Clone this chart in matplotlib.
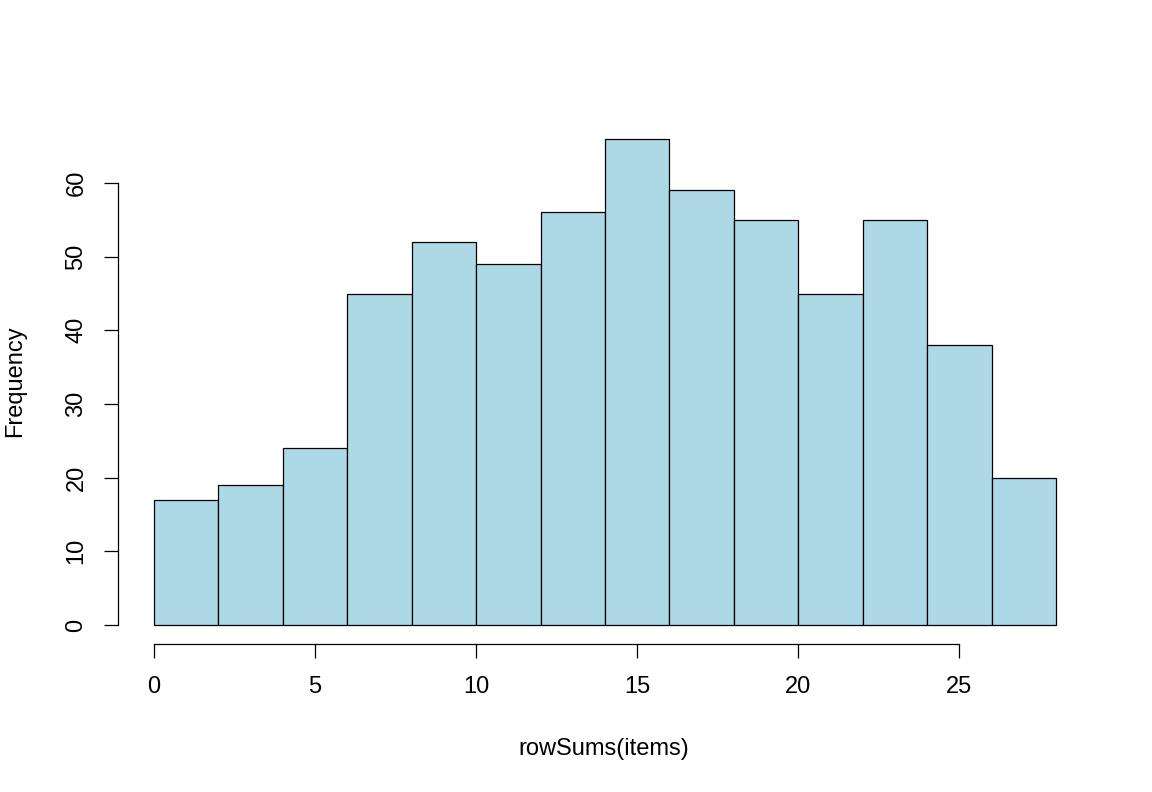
import numpy as np
import matplotlib.pyplot as plt

plt.rcParams['font.family'] = ['Liberation Sans', 'DejaVu Sans']

# histogram of rowSums(items)
bin_edges = [0, 2, 4, 6, 8, 10, 12, 14, 16, 18, 20, 22, 24, 26, 28]
counts = [17, 19, 24, 45, 52, 49, 56, 66, 59, 55, 45, 55, 38, 20]
x_ticks = [0, 5, 10, 15, 20, 25]
y_ticks = [0, 10, 20, 30, 40, 50, 60]

fig = plt.figure(figsize=(11.52, 7.92), dpi=100)
ax = fig.add_axes([118 / 1152, 1 - 644.4 / 792, 974 / 1152, 525 / 792])

left = np.array(bin_edges[:-1])
widths = np.diff(bin_edges)
ax.bar(left, counts, width=widths, align='edge', color='#ADD8E6',
       edgecolor='black', linewidth=0.9)

ax.set_xlim(-1.12, 29.12)
ax.set_ylim(-2.64, 68.64)

for s in ['top', 'right']:
    ax.spines[s].set_visible(False)
ax.spines['left'].set_bounds(0, 60)
ax.spines['bottom'].set_bounds(0, 25)
ax.spines['left'].set_linewidth(0.9)
ax.spines['bottom'].set_linewidth(0.9)

ax.set_xticks(x_ticks)
ax.set_yticks(y_ticks)
ax.tick_params(axis='both', direction='out', length=10, width=0.9,
               labelsize=17, pad=13)
ax.tick_params(axis='y', labelrotation=90, pad=12)
for lab in ax.get_yticklabels():
    lab.set_va('center')

ax.set_xlabel('rowSums(items)', fontsize=17)
ax.set_ylabel('Frequency', fontsize=17)
ax.xaxis.set_label_coords(0.499, -0.178)
ax.yaxis.set_label_coords(-0.094, 0.502)

fig.savefig('out.png', dpi=100)
